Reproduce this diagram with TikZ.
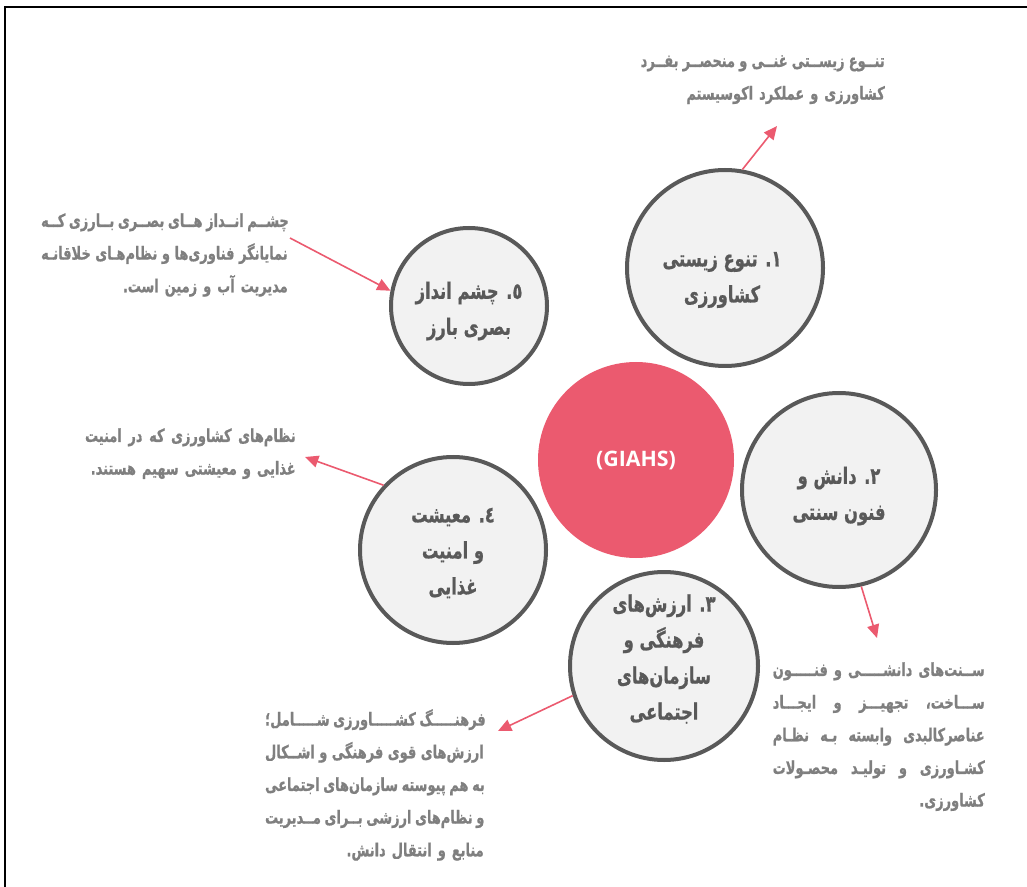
\documentclass[tikz,border=0pt]{standalone}
\usepackage{fontspec}
\usetikzlibrary{arrows.meta}
\TeXXeTstate=1
\newfontfamily\fafont[Script=Arabic,FakeStretch=0.72,FakeBold=0.8]{DejaVu Sans}
\newfontfamily\latfont{Open Sans}
\definecolor{ringgray}{HTML}{595959}
\definecolor{diskgray}{HTML}{F2F2F2}
\definecolor{notegray}{HTML}{7F7F7F}
\definecolor{giahspink}{HTML}{EB5A6F}
% one right-to-left line, and one stretched to the full width
\newcommand{\rl}[1]{\leavevmode\hbox{\beginR#1\endR}}
\newcommand{\rlfull}[1]{\leavevmode\hbox to \linewidth{\spaceskip=0.2em plus 1fil\beginR#1\endR}}
\begin{document}
\begin{tikzpicture}[x=0.75pt,y=-0.75pt,
    disk/.style={shape=circle,draw=ringgray,line width=3pt,fill=diskgray,
      minimum size=#1,inner sep=0pt},
    disktext/.style={align=center,text=ringgray,inner sep=0pt,
      font=\fafont\bfseries\fontsize{17}{27}\selectfont},
    hub/.style={shape=circle,fill=giahspink,minimum size=147pt,
      text=white,font=\latfont\bfseries\fontsize{16}{18}\selectfont},
    note/.style={anchor=north east,inner sep=0pt,text width=#1,align=right,
      text=notegray,font=\fafont\bfseries\fontsize{13.5}{24.5}\selectfont},
    pinkarrow/.style={draw=giahspink,line width=1.2pt,
      -{Triangle[length=10pt,width=9pt]}}]
  \useasboundingbox (0,0) rectangle (1027,887);
  \draw[line width=2pt] (5,890) -- (5,7) -- (1030,7);

  \node[hub] (giahs) at (636,460) {(GIAHS)};
  \node[disk=147pt] (c1) at (725,268) {};
  \node[disk=145.5pt] (c2) at (839,490) {};
  \node[disk=141pt] (c3) at (664,666) {};
  \node[disk=139.5pt] (c4) at (453,550) {};
  \node[disk=117pt] (c5) at (469,306) {};

  \node[disktext] (c1text) at (722,280) {\rl{۱. تنوع زیستی}\\\rl{کشاورزی}};
  \node[disktext] (c2text) at (839,496) {\rl{۲. دانش و}\\\rl{فنون سنتی}};
  \node[disktext] (c3text) at (664,659)
    {\rl{۳. ارزش‌های}\\\rl{فرهنگی و}\\\rl{سازمان‌های}\\\rl{اجتماعی}};
  \node[disktext] (c4text) at (453,553)
    {\rl{٤. معیشت}\\\rl{و امنیت}\\\rl{غذایی}};
  \node[disktext] (c5text) at (469,311) {\rl{٥. چشم انداز}\\\rl{بصری بارز}};

  \node[note=183pt] (t1) at (885,55)
    {\rlfull{تنــوع زیســتی غنــی و منحصــر بفــرد}\\
     \rl{کشاورزی و عملکرد اکوسیستم}};
  \node[note=185pt] (t5) at (288,213)
    {\rlfull{چشــم انــداز هــای بصــری بــارزی کــه}\\
     \rlfull{نمایانگر فناوری‌ها و نظام‌هـای خلاقانـه}\\
     \rl{مدیریت آب و زمین است.}};
  \node[note=158pt] (t4) at (296,428)
    {\rlfull{نظام‌های کشاورزی که در  امنیت}\\
     \rl{غذایی و معیشتی سهیم هستند.}};
  \node[note=159pt] (t2) at (985,662)
    {\rlfull{ســنت‌های دانشـــــی و فنـــــون}\\
     \rlfull{ســـاخت، تجهیـــز و ایجـــاد}\\
     \rlfull{عناصرکالبدی وابسته بـه نظـام}\\
     \rlfull{کشـاورزی و تولیـد محصـولات}\\
     \rl{کشاورزی.}};
  \node[note=164pt] (t3) at (484,709)
    {\rlfull{فرهنـــــگ کشـــــاورزی شـــــامل؛}\\
     \rlfull{ارزش‌های قوی فرهنگی و اشــکال}\\
     \rlfull{به هم پیوسته سازمان‌های اجتماعی}\\
     \rlfull{و نظام‌های ارزشی بــرای مــدیریت}\\
     \rl{منابع و انتقال دانش.}};

  \coordinate (tip1) at (777,126);
  \coordinate (from5) at (290,238);
  \coordinate (tip4) at (305,457);
  \coordinate (tip2) at (877,638);
  \coordinate (tip3) at (498,731);

  \draw[pinkarrow] (c1.80) -- (tip1);
  \draw[pinkarrow] (from5) -- (c5.169);
  \draw[pinkarrow] (c4.137) -- (tip4);
  \draw[pinkarrow] (c2.283) -- (tip2);
  \draw[pinkarrow] (c3.198) -- (tip3);
\end{tikzpicture}
\end{document}
